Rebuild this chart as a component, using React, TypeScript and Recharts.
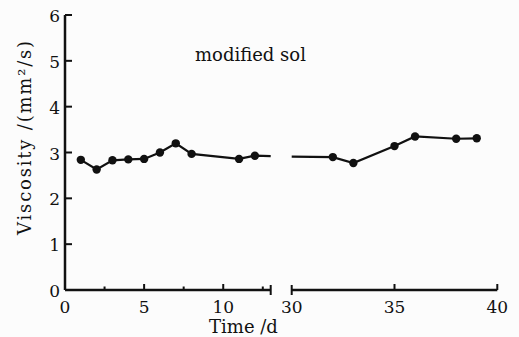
import React from 'react';
import { LineChart, Line, XAxis, YAxis } from 'recharts';

const leftDays = [1, 2, 3, 4, 5, 6, 7, 8, 11, 12];
const leftViscosity = [2.84, 2.63, 2.83, 2.85, 2.86, 3.0, 3.2, 2.97, 2.86, 2.93];
const rightDays = [32, 33, 35, 36, 38, 39];
const rightViscosity = [2.9, 2.77, 3.14, 3.35, 3.3, 3.31];

// the line runs on across the axis break
const breakEnds = [13, 30];
const breakValues = [2.92, 2.91];

const leftTicks = [0, 2.5, 5, 7.5, 10, 12.5, 13];
const rightTicks = [30, 35, 40];
const yTicks = [0, 1, 2, 3, 4, 5, 6];

const INK = '#111';
const FONT = '"DejaVu Serif", serif';

const leftData = [
  ...leftDays.map((d, i) => ({ day: d, v: leftViscosity[i] })),
  { day: breakEnds[0], v: breakValues[0], bridge: true },
];
const rightData = [
  { day: breakEnds[1], v: breakValues[1], bridge: true },
  ...rightDays.map((d, i) => ({ day: d, v: rightViscosity[i] })),
];

const Dot = (p: any) => {
  if (p.payload.bridge) return <g key={`d-${p.index}`} />;
  return <circle key={`d-${p.index}`} cx={p.cx} cy={p.cy} r={4.2} fill={INK} />;
};

const YTick = ({ x, y, payload }: any) => (
  <g>
    <line x1={x} x2={x + 7} y1={y} y2={y} stroke={INK} strokeWidth={2} />
    <text x={x - 5} y={y + 7} textAnchor="end" fontFamily={FONT} fontSize={17} fill={INK}>
      {payload.value}
    </text>
  </g>
);

const XTick = ({ x, y, payload }: any) => {
  const v = payload.value;
  const major = v % 5 === 0;
  const isBreak = v === 13 || v === 30;
  let up = major ? 6 : 3.5;
  let down = 0;
  if (isBreak) {
    up = 5;
    down = 5;
  }
  return (
    <g>
      <line x1={x} x2={x} y1={y - up} y2={y + down} stroke={INK} strokeWidth={2} />
      {major && (
        <text x={x} y={y + 23} textAnchor="middle" fontFamily={FONT} fontSize={17} fill={INK}>
          {v}
        </text>
      )}
    </g>
  );
};

const axisLine = { stroke: INK, strokeWidth: 2.5 };

export default function App() {
  return (
    <div style={{ position: 'absolute', left: 0, top: 0, width: 519, height: 337, background: '#fcfcfc' }}>
      <div style={{ position: 'absolute', left: 0, top: 0 }}>
        <LineChart width={282} height={337} data={leftData} margin={{ top: 15, right: 11.3, bottom: 0, left: 0 }}>
          <XAxis
            dataKey="day"
            type="number"
            domain={[0, 13]}
            ticks={leftTicks}
            interval={0}
            height={47}
            axisLine={axisLine}
            tickLine={false}
            tickSize={0}
            tickMargin={0}
            tick={<XTick />}
          />
          <YAxis
            domain={[0, 6]}
            ticks={yTicks}
            interval={0}
            width={65}
            axisLine={axisLine}
            tickLine={false}
            tickSize={0}
            tickMargin={0}
            tick={<YTick />}
          />
          <Line type="linear" dataKey="v" stroke={INK} strokeWidth={2.2} dot={Dot} activeDot={false} isAnimationActive={false} />
        </LineChart>
      </div>
      <div style={{ position: 'absolute', left: 282, top: 0 }}>
        <LineChart width={237} height={337} data={rightData} margin={{ top: 15, right: 21.7, bottom: 0, left: 9.7 }}>
          <XAxis
            dataKey="day"
            type="number"
            domain={[30, 40]}
            ticks={rightTicks}
            interval={0}
            height={47}
            axisLine={axisLine}
            tickLine={false}
            tickSize={0}
            tickMargin={0}
            tick={<XTick />}
          />
          <YAxis hide domain={[0, 6]} />
          <Line type="linear" dataKey="v" stroke={INK} strokeWidth={2.2} dot={Dot} activeDot={false} isAnimationActive={false} />
        </LineChart>
      </div>
      <svg width={519} height={337} style={{ position: 'absolute', left: 0, top: 0, pointerEvents: 'none' }}>
        <text x={195} y={61} fontFamily={FONT} fontSize={18} fill={INK}>
          modified sol
        </text>
        <text x={243.5} y={333} textAnchor="middle" fontFamily={FONT} fontSize={18} fill={INK}>
          Time /d
        </text>
        <text
          x={0}
          y={0}
          transform="translate(31 137) rotate(-90)"
          textAnchor="middle"
          fontFamily={FONT}
          fontSize={18}
          letterSpacing={1.8}
          fill={INK}
        >
          Viscosity /(mm²/s)
        </text>
      </svg>
    </div>
  );
}
